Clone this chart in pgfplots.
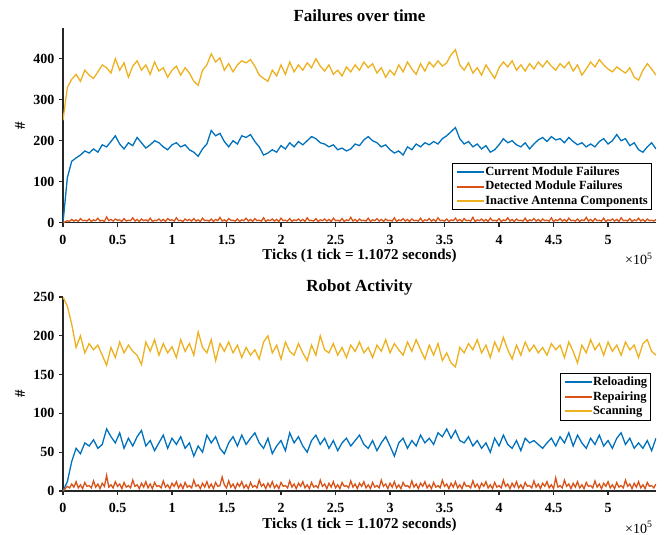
\documentclass[border=0pt]{standalone}
\usepackage{pgfplots}
\pgfplotsset{compat=1.18}
\usepackage{pgfplotstable}
\usepackage{fontspec}
\setmainfont{Liberation Serif}

\definecolor{mblue}{rgb}{0,0.447,0.741}
\definecolor{morange}{rgb}{0.85,0.325,0.098}
\definecolor{myellow}{rgb}{0.929,0.694,0.125}

% x in units of 1e5 ticks; b = current module failures, y = inactive antenna components
\pgfplotstableread{
x b y
0.00 0 250
0.04 110 330
0.08 150 350
0.12 158 362
0.16 165 345
0.20 175 372
0.24 170 360
0.28 180 352
0.32 172 368
0.36 190 385
0.40 185 378
0.44 198 365
0.48 212 400
0.52 192 372
0.56 180 390
0.60 195 355
0.64 188 382
0.68 208 395
0.72 195 372
0.76 182 385
0.80 190 362
0.84 200 392
0.88 195 370
0.92 185 378
0.96 178 355
1.00 190 372
1.04 195 382
1.08 185 360
1.12 190 378
1.16 178 365
1.20 172 345
1.24 162 335
1.28 180 372
1.32 192 385
1.36 225 412
1.40 212 392
1.44 218 402
1.48 198 372
1.52 185 388
1.56 200 368
1.60 192 385
1.64 212 395
1.68 208 390
1.72 215 398
1.76 198 382
1.80 185 360
1.84 165 352
1.88 170 345
1.92 178 372
1.96 172 358
2.00 188 385
2.04 180 362
2.08 195 392
2.12 185 368
2.16 198 385
2.20 190 372
2.24 200 390
2.28 210 378
2.32 205 400
2.36 195 382
2.40 192 370
2.44 185 385
2.48 190 362
2.52 178 372
2.56 182 358
2.60 175 380
2.64 180 368
2.68 192 385
2.72 188 372
2.76 202 392
2.80 210 378
2.84 200 388
2.88 195 365
2.92 185 378
2.96 190 355
3.00 178 372
3.04 170 360
3.08 175 385
3.12 165 368
3.16 185 392
3.20 178 375
3.24 192 362
3.28 185 388
3.32 195 370
3.36 190 392
3.40 198 380
3.44 192 395
3.48 205 382
3.52 212 390
3.56 222 410
3.60 232 422
3.64 205 385
3.68 192 372
3.72 198 390
3.76 185 365
3.80 192 378
3.84 180 360
3.88 188 385
3.92 172 368
3.96 178 352
4.00 190 378
4.04 205 392
4.08 195 380
4.12 200 395
4.16 190 372
4.20 185 385
4.24 195 370
4.28 180 388
4.32 192 375
4.36 202 392
4.40 208 380
4.44 198 395
4.48 210 382
4.52 202 372
4.56 205 388
4.60 195 378
4.64 208 392
4.68 198 370
4.72 190 385
4.76 195 360
4.80 185 375
4.84 192 392
4.88 185 380
4.92 198 398
4.96 205 385
5.00 192 375
5.04 200 368
5.08 215 380
5.12 200 372
5.16 205 365
5.20 188 378
5.24 195 355
5.28 178 348
5.32 172 372
5.36 185 388
5.40 195 375
5.44 180 360
}\failtable

% r = reloading, s = scanning
\pgfplotstableread{
x r s
0.00 0 250
0.04 12 238
0.08 38 215
0.12 55 185
0.16 48 200
0.20 62 178
0.24 58 190
0.28 66 182
0.32 55 188
0.36 60 175
0.40 80 162
0.44 70 185
0.48 62 172
0.52 75 192
0.56 55 178
0.60 68 188
0.64 58 180
0.68 70 175
0.72 78 163
0.76 58 192
0.80 65 180
0.84 52 195
0.88 62 175
0.92 72 190
0.96 55 178
1.00 68 186
1.04 60 172
1.08 70 195
1.12 55 180
1.16 62 190
1.20 45 175
1.24 58 205
1.28 50 185
1.32 72 178
1.36 62 195
1.40 70 168
1.44 55 190
1.48 48 180
1.52 62 192
1.56 70 178
1.60 58 188
1.64 72 172
1.68 60 185
1.72 68 175
1.76 75 182
1.80 62 170
1.84 55 192
1.88 68 200
1.92 48 178
1.96 58 188
2.00 65 170
2.04 52 192
2.08 75 180
2.12 62 175
2.16 70 190
2.20 58 178
2.24 50 168
2.28 65 188
2.32 72 175
2.36 60 200
2.40 68 182
2.44 55 178
2.48 65 190
2.52 52 175
2.56 62 185
2.60 68 172
2.64 58 188
2.68 65 180
2.72 72 192
2.76 60 178
2.80 55 185
2.84 65 172
2.88 52 188
2.92 62 180
2.96 70 195
3.00 58 178
3.04 45 190
3.08 62 182
3.12 68 175
3.16 55 192
3.20 65 180
3.24 58 195
3.28 72 182
3.32 62 170
3.36 68 188
3.40 60 175
3.44 75 190
3.48 70 168
3.52 80 178
3.56 68 165
3.60 78 160
3.64 65 185
3.68 62 178
3.72 70 190
3.76 58 182
3.80 65 195
3.84 55 178
3.88 62 188
3.92 50 172
3.96 68 192
4.00 58 180
4.04 72 198
4.08 60 182
4.12 55 170
4.16 65 188
4.20 52 175
4.24 68 192
4.28 62 180
4.32 65 188
4.36 60 178
4.40 55 185
4.44 62 175
4.48 68 190
4.52 58 182
4.56 70 188
4.60 62 172
4.64 75 192
4.68 58 180
4.72 72 165
4.76 62 188
4.80 55 178
4.84 68 195
4.88 60 182
4.92 72 190
4.96 58 175
5.00 65 192
5.04 55 180
5.08 68 188
5.12 75 175
5.16 60 192
5.20 68 182
5.24 55 188
5.28 62 172
5.32 55 190
5.36 65 195
5.40 52 180
5.44 68 175
}\robottable

\pgfplotsset{
  mstyle/.style={
    scale only axis,
    width=593pt,
    anchor=south west,
    clip mode=individual,
    axis lines*=left,
    axis line style={line width=1.1pt, color=black!85},
    tick style={line width=1.1pt, color=black!85},
    tick align=outside,
    major tick length=4pt,
    xmin=0, xmax=5.44,
    xtick={0,0.5,...,5},
    ymin=0,
    /pgf/number format/assume math mode=true,
    ticklabel style={font=\bfseries\fontsize{14}{16}\selectfont},
    xticklabel style={yshift=-5pt},
    yticklabel style={xshift=-1pt},
    xlabel style={font=\bfseries\fontsize{15}{17}\selectfont, at={(axis description cs:0.5,0)}, anchor=base, yshift=-37pt},
    % the label is rotated, so yshift moves it to the left
    ylabel style={font=\bfseries\fontsize{15}{17}\selectfont, at={(axis description cs:0,0.5)}, anchor=center, yshift=43pt},
    title style={font=\bfseries\fontsize{17}{19}\selectfont, at={(axis description cs:0.5,1)}, anchor=base, yshift=0pt},
    xlabel={Ticks (1 tick = 1.1072 seconds)},
    ylabel={\#},
    legend style={draw=black, line width=1.1pt, fill=white,
      font=\bfseries\fontsize{12.5}{13}\selectfont,
      inner xsep=3pt, inner ysep=1.5pt, row sep=0pt,
      nodes={inner sep=0.5pt, text height=10pt, text depth=3.5pt}},
    legend cell align=left,
    legend image code/.code={\draw[#1, line width=2pt] (0pt,0pt) -- (27pt,0pt);},
    every axis plot/.append style={line width=1.3pt},
  }
}

\begin{document}
\begin{tikzpicture}
\path[use as bounding box] (0,0) rectangle (664pt,-535pt);

\begin{axis}[mstyle,
  at={(63pt,-222.7pt)},
  height=194.7pt,
  ymax=475,
  ytick={0,100,200,300,400},
  title={Failures over time},
  legend style={at={(0.993,0.308)}, anchor=north east},
]
\addplot[mblue] table[x=x, y=b] {\failtable};
\addplot[morange] coordinates {
(0.00,0) (0.02,2) (0.04,5) (0.06,3) (0.08,8) (0.10,4) (0.12,7) (0.14,3) (0.16,10) (0.18,5)
(0.20,6) (0.22,4) (0.24,9) (0.26,3) (0.28,7) (0.30,5) (0.32,11) (0.34,4) (0.36,6) (0.38,3)
(0.40,14) (0.42,5) (0.44,8) (0.46,4) (0.48,9) (0.50,6) (0.52,7) (0.54,3) (0.56,10) (0.58,4)
(0.60,6) (0.62,5) (0.64,12) (0.66,4) (0.68,8) (0.70,3) (0.72,9) (0.74,5) (0.76,7) (0.78,4)
(0.80,11) (0.82,3) (0.84,6) (0.86,5) (0.88,9) (0.90,4) (0.92,8) (0.94,3) (0.96,10) (0.98,6)
(1.00,7) (1.02,4) (1.04,12) (1.06,5) (1.08,6) (1.10,3) (1.12,9) (1.14,5) (1.16,8) (1.18,4)
(1.20,10) (1.22,4) (1.24,7) (1.26,3) (1.28,11) (1.30,5) (1.32,6) (1.34,4) (1.36,9) (1.38,3)
(1.40,8) (1.42,5) (1.44,13) (1.46,4) (1.48,7) (1.50,3) (1.52,10) (1.54,6) (1.56,6) (1.58,4)
(1.60,9) (1.62,3) (1.64,7) (1.66,5) (1.68,11) (1.70,4) (1.72,8) (1.74,3) (1.76,10) (1.78,5)
(1.80,6) (1.82,4) (1.84,12) (1.86,3) (1.88,7) (1.90,5) (1.92,9) (1.94,4) (1.96,8) (1.98,3)
(2.00,11) (2.02,5) (2.04,6) (2.06,4) (2.08,10) (2.10,3) (2.12,7) (2.14,5) (2.16,9) (2.18,4)
(2.20,8) (2.22,3) (2.24,12) (2.26,5) (2.28,6) (2.30,4) (2.32,10) (2.34,3) (2.36,7) (2.38,5)
(2.40,9) (2.42,4) (2.44,8) (2.46,3) (2.48,11) (2.50,5) (2.52,6) (2.54,4) (2.56,10) (2.58,3)
(2.60,7) (2.62,5) (2.64,13) (2.66,4) (2.68,8) (2.70,3) (2.72,9) (2.74,5) (2.76,6) (2.78,4)
(2.80,11) (2.82,3) (2.84,7) (2.86,5) (2.88,10) (2.90,4) (2.92,8) (2.94,3) (2.96,9) (2.98,5)
(3.00,6) (3.02,4) (3.04,12) (3.06,3) (3.08,7) (3.10,5) (3.12,10) (3.14,4) (3.16,8) (3.18,3)
(3.20,9) (3.22,5) (3.24,6) (3.26,4) (3.28,11) (3.30,3) (3.32,7) (3.34,5) (3.36,10) (3.38,4)
(3.40,8) (3.42,3) (3.44,12) (3.46,5) (3.48,6) (3.50,4) (3.52,9) (3.54,3) (3.56,7) (3.58,5)
(3.60,11) (3.62,4) (3.64,8) (3.66,3) (3.68,10) (3.70,5) (3.72,6) (3.74,4) (3.76,13) (3.78,3)
(3.80,7) (3.82,5) (3.84,9) (3.86,4) (3.88,8) (3.90,3) (3.92,11) (3.94,5) (3.96,6) (3.98,4)
(4.00,10) (4.02,3) (4.04,7) (4.06,5) (4.08,12) (4.10,4) (4.12,8) (4.14,3) (4.16,9) (4.18,5)
(4.20,6) (4.22,4) (4.24,11) (4.26,3) (4.28,7) (4.30,5) (4.32,10) (4.34,4) (4.36,8) (4.38,3)
(4.40,9) (4.42,5) (4.44,6) (4.46,4) (4.48,12) (4.50,3) (4.52,7) (4.54,5) (4.56,10) (4.58,4)
(4.60,8) (4.62,3) (4.64,11) (4.66,5) (4.68,6) (4.70,4) (4.72,9) (4.74,3) (4.76,7) (4.78,5)
(4.80,13) (4.82,4) (4.84,8) (4.86,3) (4.88,10) (4.90,5) (4.92,6) (4.94,4) (4.96,11) (4.98,3)
(5.00,7) (5.02,5) (5.04,9) (5.06,4) (5.08,8) (5.10,3) (5.12,12) (5.14,5) (5.16,6) (5.18,4)
(5.20,10) (5.22,3) (5.24,7) (5.26,5) (5.28,11) (5.30,4) (5.32,8) (5.34,3) (5.36,9) (5.38,5)
(5.40,6) (5.42,4) (5.44,8)
};
\addplot[myellow] table[x=x, y=y] {\failtable};
\legend{Current Module Failures, Detected Module Failures, Inactive Antenna Components}
\node[anchor=base east, font=\fontsize{14}{16}\selectfont] at (rel axis cs:1,0) [yshift=-42pt] {×10\textsuperscript{5}};
\end{axis}

\begin{axis}[mstyle,
  at={(63pt,-491pt)},
  height=194pt,
  ymax=250,
  ytick={0,50,100,150,200,250},
  title={Robot Activity},
  legend style={at={(0.992,0.608)}, anchor=north east},
]
\addplot[mblue] table[x=x, y=r] {\robottable};
\addplot[morange] coordinates {
(0.00,0) (0.02,3) (0.04,6) (0.06,4) (0.08,9) (0.10,5) (0.12,12) (0.14,4) (0.16,8) (0.18,3)
(0.20,11) (0.22,6) (0.24,7) (0.26,4) (0.28,13) (0.30,5) (0.32,9) (0.34,3) (0.36,10) (0.38,6)
(0.40,20) (0.42,5) (0.44,8) (0.46,4) (0.48,12) (0.50,6) (0.52,9) (0.54,3) (0.56,11) (0.58,5)
(0.60,7) (0.62,4) (0.64,14) (0.66,6) (0.68,8) (0.70,3) (0.72,10) (0.74,5) (0.76,12) (0.78,4)
(0.80,9) (0.82,3) (0.84,11) (0.86,6) (0.88,7) (0.90,4) (0.92,13) (0.94,5) (0.96,8) (0.98,3)
(1.00,10) (1.02,6) (1.04,12) (1.06,4) (1.08,9) (1.10,3) (1.12,11) (1.14,5) (1.16,7) (1.18,4)
(1.20,14) (1.22,6) (1.24,8) (1.26,3) (1.28,10) (1.30,5) (1.32,12) (1.34,4) (1.36,9) (1.38,3)
(1.40,11) (1.42,6) (1.44,7) (1.46,18) (1.48,8) (1.50,4) (1.52,13) (1.54,5) (1.56,9) (1.58,3)
(1.60,10) (1.62,6) (1.64,12) (1.66,4) (1.68,8) (1.70,3) (1.72,11) (1.74,5) (1.76,7) (1.78,4)
(1.80,14) (1.82,6) (1.84,9) (1.86,3) (1.88,10) (1.90,5) (1.92,12) (1.94,4) (1.96,8) (1.98,3)
(2.00,11) (2.02,6) (2.04,7) (2.06,4) (2.08,13) (2.10,5) (2.12,9) (2.14,3) (2.16,10) (2.18,6)
(2.20,12) (2.22,4) (2.24,8) (2.26,3) (2.28,11) (2.30,5) (2.32,7) (2.34,4) (2.36,14) (2.38,6)
(2.40,9) (2.42,3) (2.44,10) (2.46,5) (2.48,12) (2.50,4) (2.52,8) (2.54,3) (2.56,11) (2.58,6)
(2.60,7) (2.62,4) (2.64,13) (2.66,5) (2.68,9) (2.70,3) (2.72,10) (2.74,6) (2.76,12) (2.78,4)
(2.80,8) (2.82,3) (2.84,11) (2.86,5) (2.88,7) (2.90,4) (2.92,14) (2.94,6) (2.96,9) (2.98,3)
(3.00,10) (3.02,5) (3.04,12) (3.06,4) (3.08,8) (3.10,3) (3.12,11) (3.14,6) (3.16,7) (3.18,4)
(3.20,13) (3.22,5) (3.24,9) (3.26,3) (3.28,10) (3.30,6) (3.32,12) (3.34,4) (3.36,8) (3.38,3)
(3.40,11) (3.42,5) (3.44,7) (3.46,4) (3.48,14) (3.50,6) (3.52,9) (3.54,3) (3.56,10) (3.58,5)
(3.60,12) (3.62,4) (3.64,8) (3.66,3) (3.68,11) (3.70,6) (3.72,7) (3.74,4) (3.76,13) (3.78,5)
(3.80,9) (3.82,3) (3.84,10) (3.86,6) (3.88,12) (3.90,4) (3.92,8) (3.94,3) (3.96,11) (3.98,5)
(4.00,7) (4.02,4) (4.04,14) (4.06,6) (4.08,9) (4.10,3) (4.12,10) (4.14,5) (4.16,12) (4.18,4)
(4.20,8) (4.22,3) (4.24,11) (4.26,6) (4.28,7) (4.30,4) (4.32,13) (4.34,5) (4.36,9) (4.38,3)
(4.40,10) (4.42,6) (4.44,12) (4.46,4) (4.48,8) (4.50,3) (4.52,17) (4.54,5) (4.56,7) (4.58,4)
(4.60,14) (4.62,6) (4.64,9) (4.66,3) (4.68,10) (4.70,5) (4.72,12) (4.74,4) (4.76,8) (4.78,3)
(4.80,11) (4.82,6) (4.84,7) (4.86,4) (4.88,13) (4.90,5) (4.92,9) (4.94,3) (4.96,10) (4.98,6)
(5.00,12) (5.02,4) (5.04,8) (5.06,3) (5.08,11) (5.10,5) (5.12,7) (5.14,4) (5.16,14) (5.18,6)
(5.20,9) (5.22,3) (5.24,10) (5.26,5) (5.28,12) (5.30,4) (5.32,8) (5.34,3) (5.36,11) (5.38,6)
(5.40,7) (5.42,4) (5.44,9)
};
\addplot[myellow] table[x=x, y=s] {\robottable};
\legend{Reloading, Repairing, Scanning}
\node[anchor=base east, font=\fontsize{14}{16}\selectfont] at (rel axis cs:1,0) [yshift=-42pt] {×10\textsuperscript{5}};
\end{axis}
\end{tikzpicture}
\end{document}
